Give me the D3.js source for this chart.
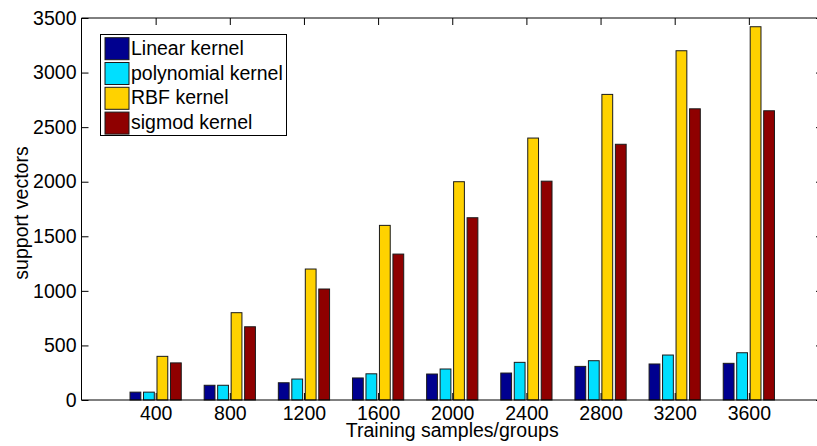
<!DOCTYPE html>
<html>
<head>
<meta charset="utf-8">
<script src="https://cdn.jsdelivr.net/npm/d3@7"></script>
<style>
  html, body { margin: 0; padding: 0; background: #fff; }
  svg { display: block; }
  text { font-family: "Liberation Sans", Arial, Helvetica, sans-serif; fill: #000; }
</style>
</head>
<body>
<svg id="chart" width="817" height="446"></svg>
<script>
// Training set sizes (samples per group)
const categories = ["400", "800", "1200", "1600", "2000", "2400", "2800", "3200", "3600"];
// Number of support vectors per kernel
const seriesNames = ["Linear kernel", "polynomial kernel", "RBF kernel", "sigmod kernel"];
const linearKernel = [72, 135, 158, 202, 238, 247, 308, 330, 336];
const polynomialKernel = [72, 135, 192, 240, 284, 345, 360, 412, 433];
const rbfKernel = [400, 800, 1200, 1600, 2000, 2400, 2800, 3200, 3420];
const sigmodKernel = [340, 671, 1017, 1337, 1670, 2005, 2343, 2668, 2650];
const yTicks = [0, 500, 1000, 1500, 2000, 2500, 3000, 3500];

const seriesValues = [linearKernel, polynomialKernel, rbfKernel, sigmodKernel];
const colors = ["#00008f", "#00dfff", "#ffd200", "#8f0000"];
const fontSize = 19.5;

const svg = d3.select("#chart");
const plotLeft = 81.5, plotRight = 823, plotTop = 18, plotBottom = 400;

// Groups sit at integer positions 1..9 on an axis running 0..10
const x = d3.scaleLinear().domain([0, categories.length + 1]).range([plotLeft, plotRight]);
const y = d3.scaleLinear().domain([0, 3500]).range([plotBottom, plotTop]);
const unit = x(1) - x(0);
const groupWidth = 4 / 5.5;
const inner = d3.scaleBand()
  .domain(d3.range(seriesNames.length))
  .range([-groupWidth / 2 * unit, groupWidth / 2 * unit])
  .paddingInner(0.2)
  .paddingOuter(0.1);

const rows = categories.map((c, i) => ({ cat: c, i, vals: seriesValues.map(s => s[i]) }));

// Bars
const g = svg.append("g");
rows.forEach(r => {
  r.vals.forEach((v, k) => {
    g.append("rect")
      .attr("x", x(r.i + 1) + inner(k))
      .attr("y", y(v))
      .attr("width", inner.bandwidth())
      .attr("height", y(0) - y(v))
      .attr("fill", colors[k])
      .attr("stroke", "#1a1a1a")
      .attr("stroke-width", 1);
  });
});

// Frame
const frame = svg.append("g").attr("stroke", "#000").attr("stroke-width", 1).attr("fill", "none");
frame.append("line").attr("x1", plotLeft).attr("x2", plotLeft).attr("y1", plotTop).attr("y2", plotBottom);
frame.append("line").attr("x1", plotRight).attr("x2", plotRight).attr("y1", plotTop).attr("y2", plotBottom);
frame.append("line").attr("x1", plotLeft).attr("x2", plotRight).attr("y1", plotTop).attr("y2", plotTop);

// Bottom axis with inward ticks
const xAxis = d3.axisBottom(x)
  .tickValues(d3.range(1, categories.length + 1))
  .tickFormat(d => categories[d - 1])
  .tickSize(-7)
  .tickPadding(6);
const gx = svg.append("g").attr("transform", `translate(0,${plotBottom})`).call(xAxis);
gx.select(".domain").attr("d", `M${plotLeft},0H${plotRight}`).attr("stroke", "#000");
gx.selectAll("text").attr("font-size", fontSize).style("font-family", "'Liberation Sans', Arial, sans-serif");

// Top ticks
const gxt = svg.append("g").attr("transform", `translate(0,${plotTop})`)
  .call(d3.axisTop(x).tickValues(d3.range(1, categories.length + 1)).tickSize(-7).tickFormat(""));
gxt.select(".domain").remove();

// Left axis with inward ticks
const yAxis = d3.axisLeft(y).tickValues(yTicks).tickFormat(d3.format("d")).tickSize(-7).tickPadding(5);
const gy = svg.append("g").attr("transform", `translate(${plotLeft},0)`).call(yAxis);
gy.select(".domain").attr("d", `M0,${plotTop}V${plotBottom}`).attr("stroke", "#000");
gy.selectAll("text").attr("font-size", fontSize).style("font-family", "'Liberation Sans', Arial, sans-serif");

// Right ticks
const gyr = svg.append("g").attr("transform", `translate(${plotRight},0)`)
  .call(d3.axisRight(y).tickValues(yTicks).tickSize(-7).tickFormat(""));
gyr.select(".domain").remove();

// Axis titles
svg.append("text")
  .attr("x", (plotLeft + plotRight) / 2).attr("y", 437)
  .attr("text-anchor", "middle").attr("font-size", fontSize)
  .text("Training samples/groups");
svg.append("text")
  .attr("transform", `translate(28,${(plotTop + plotBottom) / 2 + 4}) rotate(-90)`)
  .attr("text-anchor", "middle").attr("font-size", fontSize)
  .text("support vectors");

// Legend
const lg = svg.append("g");
lg.append("rect").attr("x", 100.5).attr("y", 34.5).attr("width", 186).attr("height", 101)
  .attr("fill", "#fff").attr("stroke", "#000").attr("stroke-width", 1);
seriesNames.forEach((name, k) => {
  const ry = 37.7 + k * 24.8;
  lg.append("rect").attr("x", 105).attr("y", ry).attr("width", 24).attr("height", 22)
    .attr("fill", colors[k]).attr("stroke", "#1a1a1a").attr("stroke-width", 1);
  lg.append("text").attr("x", 131).attr("y", ry + 17)
    .attr("font-size", fontSize).text(name);
});
</script>
</body>
</html>
